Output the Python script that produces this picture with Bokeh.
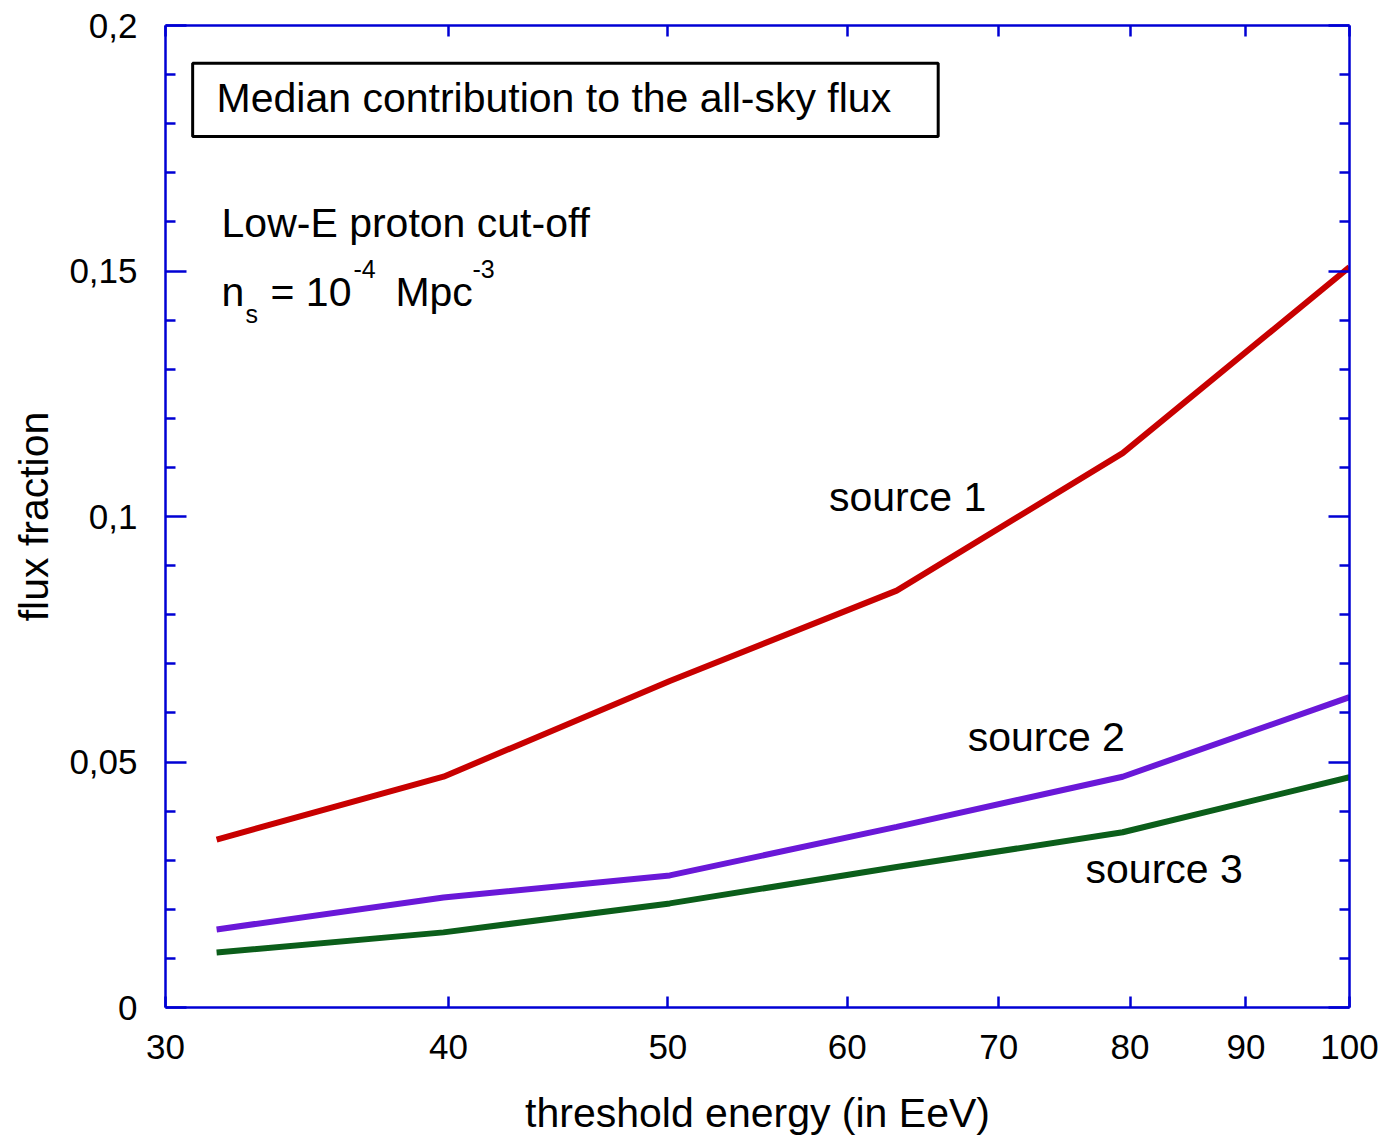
from bokeh.plotting import figure
from bokeh.models import Range1d, FixedTicker, LinearAxis, LogAxis, Label, BoxAnnotation
from bokeh.embed import file_html
from bokeh.resources import INLINE

# ---- data ----
energy = [31.6, 39.8, 50.1, 63.1, 79.4, 100.0]
source1 = [0.0342, 0.0470, 0.0665, 0.0849, 0.1129, 0.1508]
source2 = [0.0159, 0.0224, 0.0269, 0.0368, 0.0470, 0.0632]
source3 = [0.0112, 0.0153, 0.0212, 0.0286, 0.0357, 0.0469]

x_ticks = [30, 40, 50, 60, 70, 80, 90, 100]
y_ticks = [0, 0.05, 0.1, 0.15, 0.2]
y_tick_labels = ["0", "0,05", "0,1", "0,15", "0,2"]
y_minor = [0.01, 0.02, 0.03, 0.04, 0.06, 0.07, 0.08, 0.09, 0.11, 0.12, 0.13,
           0.14, 0.16, 0.17, 0.18, 0.19]

FONT = "Liberation Sans"
AXIS_BLUE = "#0000D4"

p = figure(width=1384, height=1138, x_axis_type="log",
           x_range=Range1d(30, 100), y_range=Range1d(0, 0.2),
           output_backend="svg", toolbar_location=None,
           min_border_left=165, min_border_right=35,
           min_border_top=25, min_border_bottom=130)
p.grid.visible = False
p.outline_line_color = None
p.background_fill_color = "white"
p.border_fill_color = "white"

# lines
p.line(energy, source1, line_width=6, line_color="#C80000")
p.line(energy, source2, line_width=6, line_color="#6A18D8")
p.line(energy, source3, line_width=6, line_color="#0B5E1A")

y_overrides = {t: l for t, l in zip(y_ticks, y_tick_labels)}


def style_x(ax, show):
    ax.ticker = FixedTicker(ticks=x_ticks, minor_ticks=[])
    ax.axis_line_color = AXIS_BLUE
    ax.axis_line_width = 2.5
    ax.major_tick_line_color = AXIS_BLUE
    ax.major_tick_line_width = 2.5
    ax.major_tick_in = 11
    ax.major_tick_out = 0
    ax.minor_tick_in = 0
    ax.minor_tick_out = 0
    if show:
        ax.major_label_text_font = FONT
        ax.major_label_text_font_size = "35px"
        ax.major_label_text_color = "black"
        ax.major_label_standoff = 27
    else:
        ax.major_label_text_font_size = "0px"
        ax.major_label_text_alpha = 0
        ax.major_label_standoff = 0


def style_y(ax, show):
    ax.ticker = FixedTicker(ticks=y_ticks, minor_ticks=y_minor)
    ax.axis_line_color = AXIS_BLUE
    ax.axis_line_width = 2.5
    ax.major_tick_line_color = AXIS_BLUE
    ax.major_tick_line_width = 2.5
    ax.minor_tick_line_color = AXIS_BLUE
    ax.minor_tick_line_width = 2.5
    ax.major_tick_in = 21
    ax.major_tick_out = 0
    ax.minor_tick_in = 10
    ax.minor_tick_out = 0
    if show:
        ax.major_label_overrides = y_overrides
        ax.major_label_text_font = FONT
        ax.major_label_text_font_size = "35px"
        ax.major_label_text_color = "black"
        ax.major_label_standoff = 28
    else:
        ax.major_label_text_font_size = "0px"
        ax.major_label_text_alpha = 0
        ax.major_label_standoff = 0


xb = p.below[0]
style_x(xb, True)
xb.axis_label = "threshold energy (in EeV)"
xb.axis_label_text_font = FONT
xb.axis_label_text_font_size = "41px"
xb.axis_label_text_font_style = "normal"
xb.axis_label_text_color = "black"
xb.axis_label_standoff = 28

yl = p.left[0]
style_y(yl, True)
yl.axis_label = "flux fraction"
yl.axis_label_text_font = FONT
yl.axis_label_text_font_size = "41px"
yl.axis_label_text_font_style = "normal"
yl.axis_label_text_color = "black"
yl.axis_label_standoff = 9

xt = LogAxis()
style_x(xt, False)
p.add_layout(xt, "above")

yr = LinearAxis()
style_y(yr, False)
p.add_layout(yr, "right")

# annotation box
box = BoxAnnotation(left=30.84, right=65.82, bottom=0.1774, top=0.1923,
                    fill_alpha=0, line_color="black", line_alpha=1.0,
                    line_width=3, level="overlay")
p.add_layout(box)

DY = 0.0029


def lab(x, y, text, size="41px"):
    p.add_layout(Label(x=x, y=y + DY, text=text, text_font=FONT, text_font_size=size,
                       text_color="black", text_baseline="alphabetic",
                       text_align="left"))


lab(31.60, 0.1823, "Median contribution to the all-sky flux")
lab(31.76, 0.1569, "Low-E proton cut-off")
lab(31.76, 0.1428, "n")
lab(32.54, 0.1384, "s", "25px")
lab(33.38, 0.1428, "= 10")
lab(36.32, 0.1475, "-4", "25px")
lab(37.90, 0.1428, "Mpc")
lab(40.99, 0.1475, "-3", "25px")
lab(58.90, 0.1011, "source  1")
lab(67.82, 0.0521, "source  2")
lab(76.46, 0.0254, "source  3")

open("out.html", "w").write(file_html(p, INLINE))
